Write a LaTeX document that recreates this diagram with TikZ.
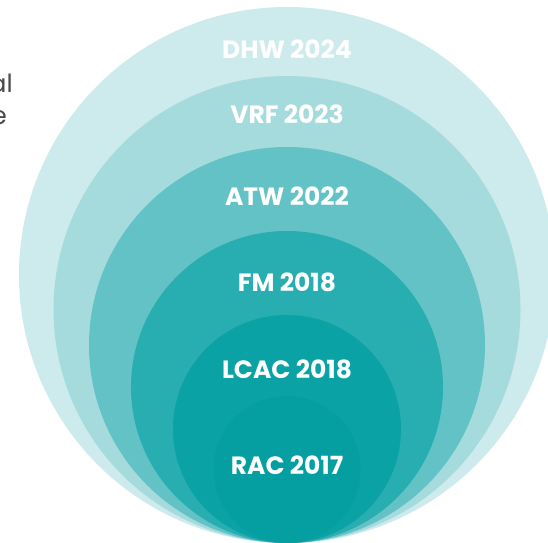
\documentclass[tikz,border=0pt]{standalone}
\usepackage{fontspec}
\setmainfont{Poppins}
\definecolor{cRingA}{HTML}{CDEBED}
\definecolor{cRingB}{HTML}{A6DBDD}
\definecolor{cRingC}{HTML}{62C2C5}
\definecolor{cRingD}{HTML}{28ADB0}
\definecolor{cRingE}{HTML}{0AA2A4}
\definecolor{cRingF}{HTML}{069FA1}
\definecolor{cSide}{HTML}{4A4A4A}

\begin{document}
\begin{tikzpicture}[x=1pt, y=-1pt,
        ringlabel/.style = {text=white, inner sep=0pt, font=\fontsize{25}{30}\selectfont\bfseries},
        sidetext/.style = {text=cSide, inner sep=0pt, anchor=base east, font=\fontsize{25}{30}\selectfont} ]
      \useasboundingbox (0,0) rectangle (548,542);
      \clip (0,0) rectangle (548,542);
      % nested rings, all touching at the bottom
      \foreach \r/\c in {268/cRingA, 233.5/cRingB, 198/cRingC, 156/cRingD, 114/cRingE, 73.5/cRingF}
        \fill[\c] (287,{543-\r}) circle[radius=\r pt];
      \node[ringlabel] (dhw)  at (287,49)  {DHW 2024};
      \node[ringlabel] (vrf)  at (287,114) {VRF 2023};
      \node[ringlabel] (atw)  at (287,196) {ATW 2022};
      \node[ringlabel] (fm)   at (287,282) {FM 2018};
      \node[ringlabel] (lcac) at (287,369) {LCAC 2018};
      \node[ringlabel] (rac)  at (287,465) {RAC 2017};
      % cut-off text at the left edge
      \node[sidetext] (sidea) at (13,92)  {al};
      \node[sidetext] (sideb) at (7,124) {e};
    \end{tikzpicture}
\end{document}
